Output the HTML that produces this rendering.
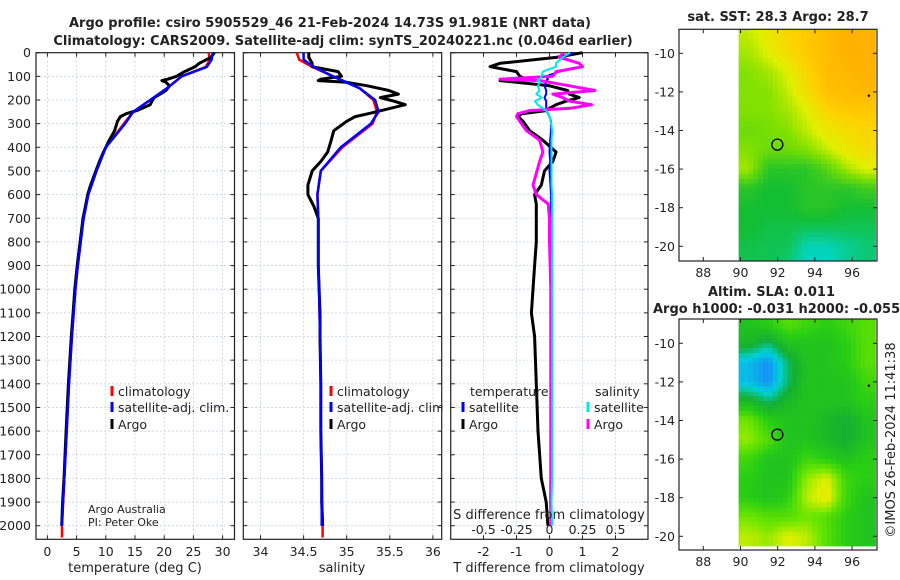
<!DOCTYPE html>
<html><head><meta charset="utf-8">
<style>
html,body{margin:0;padding:0;background:#fff;}
svg{display:block;font-family:"DejaVu Sans","Liberation Sans",sans-serif;}
</style></head>
<body>
<svg id="c" width="900" height="580" viewBox="0 0 900 580" xmlns="http://www.w3.org/2000/svg"></svg>
<script>
// ---------- data ----------
var depthTicks=[0,100,200,300,400,500,600,700,800,900,1000,1100,1200,1300,1400,1500,1600,1700,1800,1900,2000];
var tTicks=[0,5,10,15,20,25,30];
var sTicks=[34,34.5,35,35.5,36];
var dTTicks=[-2,-1,0,1,2];
var dSTicks=[-0.5,-0.25,0,0.25,0.5];
var dSTickLabels=["-0.5","-0.25","0","0.25","0.5"];

var climDepth=[0,30,60,100,150,200,250,300,400,500,600,700,800,900,1000,1200,1400,1600,1800,2000,2050];
var climT=[27.6,27.8,27.1,23,20.5,17.6,14.7,13.1,10.0,8.4,7.0,6.2,5.7,5.2,4.8,4.2,3.7,3.3,2.9,2.5,2.5];
var satT=[28.3,28.1,27.3,23,20.5,17.6,14.7,13.3,10.0,8.4,7.0,6.2,5.7,5.2,4.8,4.2,3.7,3.3,2.9,2.45,null];
var climS=[34.42,34.45,34.6,34.84,35.15,35.31,35.35,35.3,34.95,34.7,34.66,34.67,34.67,34.67,34.68,34.69,34.7,34.7,34.71,34.72,34.72];
var satS=[34.5,34.5,34.62,34.84,35.15,35.33,35.37,35.28,34.93,34.7,34.66,34.67,34.67,34.67,34.68,34.69,34.7,34.7,34.71,34.71,null];

var argoDepth=[0,20,45,59,80,100,112,118,125,140,160,175,190,205,220,245,258,270,290,330,370,420,460,500,560,600,650,700,800,900,1000,1100,1200,1400,1600,1800,1900,2000];
var argoT=[28.6,28.0,26,25.3,23.5,22.1,20.6,19.6,20.3,20.9,20.3,19.3,18.3,17.9,17.6,15.3,13.5,12.5,12.0,11.5,10.6,9.6,8.9,8.3,7.4,6.9,6.5,6.1,5.6,5.1,4.7,4.4,4.1,3.6,3.2,2.85,2.6,2.45];
var argoS=[34.56,34.56,34.6,34.6,34.9,34.94,34.7,34.67,35.0,35.24,35.49,35.6,35.39,35.55,35.68,35.4,35.25,35.1,35.0,34.85,34.82,34.78,34.7,34.6,34.55,34.55,34.62,34.67,34.67,34.67,34.68,34.69,34.69,34.7,34.7,34.71,34.71,34.72];

var diffDepth=[0,20,45,59,80,100,112,118,125,140,160,175,190,205,220,235,245,258,270,290,330,370,420,460,500,560,600,640,700,800,900,1000,1100,1200,1400,1600,1800,1900,2000];
var dTArgo=[1.0,0.2,-1.5,-1.8,-1.0,-0.9,-0.7,-1.5,-1.0,0.0,0.55,0.6,0.9,0.5,0.2,0.0,-0.1,-0.85,-0.95,-0.8,-0.6,-0.2,0.2,0.1,-0.15,-0.25,-0.45,-0.4,-0.4,-0.4,-0.45,-0.5,-0.55,-0.45,-0.4,-0.35,-0.25,-0.1,-0.05];
var dTSat=[0.7,0.4,0.9,1.0,0.3,-0.1,-0.05,-0.1,-0.1,-0.15,-0.1,-0.1,-0.15,-0.1,-0.1,-0.1,-0.1,-0.05,0,0.05,0.05,0.02,0,0.02,0,0.03,0.05,0.05,0.05,0.05,0.05,0.05,0.05,0.05,0.05,0.03,0.03,0.02,0.05];
var dSArgo=[0.105,0.075,0.225,0.25,0.05,0.025,-0.375,-0.07,0.0,0.15,0.345,0.025,0.1,0.15,0.32,0.155,-0.15,-0.24,-0.25,-0.225,-0.175,-0.075,-0.05,-0.075,-0.095,-0.125,-0.1,-0.01,0.0,0.0,0.005,0.01,0.01,0.01,0.01,0.01,0.01,0.01,0.01];
var dSSat=[0.155,0.1,0.05,0.05,-0.05,-0.06,-0.075,-0.09,-0.07,-0.09,-0.075,-0.1,-0.06,-0.11,-0.09,-0.05,-0.025,-0.01,0,0.01,0.02,0.015,0.015,0.015,0.015,0.015,0.02,0.02,0.02,0.02,0.02,0.02,0.02,0.02,0.02,0.02,0.02,0.015,0.02];

var mapLonTicks=[88,90,92,94,96];
var mapLatTicks=[-10,-12,-14,-16,-18,-20];
var sstLat=[-9,-10,-11,-12,-13,-14,-15,-16,-17,-18,-19,-20,-21];
var sstGrid=[
[0.6,0.7,0.8,0.85,0.9,0.95,0.95],
[0.55,0.65,0.75,0.85,0.9,0.95,0.95],
[0.5,0.55,0.65,0.8,0.9,0.92,0.95],
[0.5,0.5,0.6,0.75,0.88,0.9,0.92],
[0.5,0.5,0.55,0.65,0.8,0.85,0.85],
[0.45,0.48,0.5,0.6,0.7,0.75,0.8],
[0.5,0.45,0.45,0.5,0.6,0.7,0.75],
[0.55,0.3,0.3,0.3,0.4,0.55,0.65],
[0.3,0.25,0.25,0.3,0.3,0.3,0.35],
[0.25,0.25,0.25,0.3,0.3,0.25,0.25],
[0.25,0.22,0.22,0.2,0.2,0.2,0.2],
[0.22,0.2,0.2,0.05,0.05,0.1,0.15],
[0.2,0.2,0.15,0.02,0.02,0.1,0.15]];
var slaLat=[-9,-10,-11,-12,-13,-14,-15,-16,-17,-18,-19,-20];
var slaGrid=[
[0.45,0.5,0.6,0.55,0.5,0.55,0.6],
[0.4,0.3,0.45,0.45,0.45,0.5,0.6],
[0.15,0.05,0.3,0.45,0.45,0.5,0.6],
[0.15,0.05,0.3,0.45,0.45,0.45,0.55],
[0.4,0.3,0.4,0.45,0.45,0.45,0.5],
[0.65,0.5,0.45,0.45,0.4,0.35,0.45],
[0.7,0.6,0.45,0.45,0.4,0.35,0.45],
[0.55,0.45,0.45,0.55,0.5,0.45,0.5],
[0.5,0.45,0.45,0.7,0.8,0.55,0.5],
[0.5,0.45,0.5,0.75,0.85,0.55,0.45],
[0.65,0.6,0.6,0.65,0.6,0.5,0.45],
[0.75,0.7,0.8,0.75,0.6,0.5,0.45]];
var mapLonStart=89.9, mapCellLon=1.05;

// ---------- helpers ----------
var svg=document.getElementById('c');
var NS='http://www.w3.org/2000/svg';
function el(tag,attrs,parent){var e=document.createElementNS(NS,tag);for(var k in attrs)e.setAttribute(k,attrs[k]);(parent||svg).appendChild(e);return e;}
function txt(s,x,y,size,anchor,weight,parent){var t=el('text',{x:x,y:y,'font-size':size,'text-anchor':anchor||'middle','fill':'#222'},parent);if(weight)t.setAttribute('font-weight',weight);t.textContent=s;return t;}

var PTOP=52.7, PBOT=539.3;
function yD(d){return PTOP+d*0.2365;}
function xT(v){return 47.4+v*5.84;}
function xS(v){return 260.5+(v-34)*86.2;}
function xDT(v){return 549.5+v*33;}
function xDS(v){return 549.5+v*132;}

function panel(name,x0,x1,xticks,xf){
  var g=el('g',{});
  
  
  depthTicks.forEach(function(d){el('line',{x1:x0,x2:x1,y1:yD(d),y2:yD(d),stroke:'#c9cde6','stroke-width':0.8,'stroke-dasharray':'2,2'},g);
    el('line',{x1:x0,x2:x0+4,y1:yD(d),y2:yD(d),stroke:'#222'},g);el('line',{x1:x1,x2:x1-4,y1:yD(d),y2:yD(d),stroke:'#222'},g);});
  xticks.forEach(function(v){var x=xf(v);el('line',{x1:x,x2:x,y1:PTOP,y2:PBOT,stroke:'#c9cde6','stroke-width':0.8,'stroke-dasharray':'2,2'},g);
    el('line',{x1:x,x2:x,y1:PTOP,y2:PTOP+4,stroke:'#222'},g);el('line',{x1:x,x2:x,y1:PBOT,y2:PBOT-4,stroke:'#222'},g);
    var t=txt(String(v),x,556,12.5,'middle',null,g);
    });
  el('rect',{x:x0,y:PTOP,width:x1-x0,height:PBOT-PTOP,fill:'none',stroke:'#222','stroke-width':1.2},g);
  return g;
}
function line(parent,name,depths,vals,xf,color,w){
  var p='';var started=false;
  for(var i=0;i<depths.length;i++){if(vals[i]===null||vals[i]===undefined)continue;p+=(started?'L':'M')+xf(vals[i]).toFixed(1)+','+yD(depths[i]).toFixed(1);started=true;}
  var e=el('path',{d:p,fill:'none',stroke:color,'stroke-width':w,'stroke-linejoin':'round'},parent);
  
  
  return e;
}
function legend(parent,x,y,color,label){
  el('rect',{x:x-1.5,y:y-10,width:3,height:10,fill:color},parent);
  var t=txt(label,x+6,y,12.5,'start',null,parent);
  
}

// titles
var t1=txt('Argo profile: csiro 5905529_46 21-Feb-2024 14.73S 91.981E (NRT data)',330,27,13,'middle','bold');

var t2=txt('Climatology: CARS2009. Satellite-adj clim: synTS_20240221.nc (0.046d earlier)',343,45,13,'middle','bold');


// panel 1 temperature
var p1=panel('temperature-panel',36,234.5,tTicks,xT);
depthTicks.forEach(function(d){var t=txt(String(d),31,yD(d)+4.5,12.5,'end',null,p1);});
line(p1,'temperature-climatology-line',climDepth,climT,xT,'#ff0000',2.5);
line(p1,'temperature-argo-line',argoDepth,argoT,xT,'#000',3);
line(p1,'temperature-satellite-line',climDepth,satT,xT,'#0000ff',2.5);
var xl1=txt('temperature (deg C)',135,572,13,'middle',null,p1);
legend(p1,112,396,'#ff0000','climatology');legend(p1,112,412,'#0000ff','satellite-adj. clim.');legend(p1,112,429,'#000','Argo');
var a1=txt('Argo Australia',88,513,11,'start',null,p1);
var a2=txt('PI: Peter Oke',88,526,11,'start',null,p1);

// panel 2 salinity
var p2=panel('salinity-panel',243.3,441.7,sTicks,xS);
line(p2,'salinity-climatology-line',climDepth,climS,xS,'#ff0000',2.5);
line(p2,'salinity-argo-line',argoDepth,argoS,xS,'#000',3);
line(p2,'salinity-satellite-line',climDepth,satS,xS,'#0000ff',2.5);
var xl2=txt('salinity',342,572,13,'middle',null,p2);
legend(p2,331,396,'#ff0000','climatology');legend(p2,331,412,'#0000ff','satellite-adj. clim.');legend(p2,331,429,'#000','Argo');
el('rect',{x:442.5,y:380,width:7.5,height:60,fill:'#fff'});

// panel 3 differences
var p3=panel('difference-panel',450.7,648,dTTicks,xDT);
line(p3,'t-diff-argo-line',diffDepth,dTArgo,xDT,'#000',3);
line(p3,'t-diff-satellite-line',diffDepth,dTSat,xDT,'#0000ff',2);
line(p3,'s-diff-argo-line',diffDepth,dSArgo,xDS,'#ff00ff',3);
line(p3,'s-diff-satellite-line',diffDepth,dSSat,xDS,'#00e5ee',2);
var xl3=txt('T difference from climatology',549,572,13,'middle',null,p3);
var sl=txt('S difference from climatology',549,519,13,'middle',null,p3);
dSTicks.forEach(function(v,i){var t=txt(dSTickLabels[i],xDS(v),534,12.5,'middle',null,p3);});
var lt=txt('temperature',470,396,12.5,'start',null,p3);
var ls=txt('salinity',595,396,12.5,'start',null,p3);
legend(p3,463,412,'#0000ff','satellite');legend(p3,463,429,'#000','Argo');
legend(p3,588,412,'#00e5ee','satellite');legend(p3,588,429,'#ff00ff','Argo');

// ---------- maps ----------
function lerpC(stops,v){v=Math.max(0,Math.min(1,v));for(var i=1;i<stops.length;i++){if(v<=stops[i][0]){var a=stops[i-1],b=stops[i],f=(v-a[0])/(b[0]-a[0]);
  return 'rgb('+[1,2,3].map(function(k){return Math.round(a[k]+(b[k]-a[k])*f);}).join(',')+')';}}return 'rgb(255,160,0)';}
var sstStops=[[0,0,216,216],[0.25,20,190,50],[0.5,130,225,0],[0.65,225,240,0],[0.82,255,208,0],[1,255,165,0]];
var slaStops=[[0,30,120,255],[0.2,0,210,220],[0.35,20,175,50],[0.5,40,205,20],[0.65,110,230,0],[0.8,225,240,0],[1,255,190,0]];

function sample(grid,fr,fc){
  var R=grid.length,C=grid[0].length;
  fr=Math.max(0,Math.min(R-1,fr));fc=Math.max(0,Math.min(C-1,fc));
  var r0=Math.floor(fr),c0=Math.floor(fc),r1=Math.min(R-1,r0+1),c1=Math.min(C-1,c0+1),a=fr-r0,b=fc-c0;
  return grid[r0][c0]*(1-a)*(1-b)+grid[r0][c1]*(1-a)*b+grid[r1][c0]*a*(1-b)+grid[r1][c1]*a*b;
}
function map(name,mx0,mx1,my0,my1,lat10y,grid,lats,stops){
  var g=el('g',{});
  
  
  var xLon=function(l){return 740.5+(l-90)*18.6;};
  var yLat=function(l){return lat10y+(-10-l)*19.3;};
  var clip='clip-'+name;
  var cp=el('clipPath',{id:clip},g);el('rect',{x:mx0,y:my0,width:mx1-mx0,height:my1-my0},cp);
  var cg=el('g',{'clip-path':'url(#'+clip+')'},g);
  var sub=4, dl=mapCellLon/sub, dlat=1/sub;
  for(var r=0;r<grid.length*sub;r++){for(var c=0;c<grid[0].length*sub;c++){
    var lon=mapLonStart+c*dl, lat=lats[0]+0.5-r*dlat;
    var fr=(lats[0]-(lat-dlat/2)), fc=((lon+dl/2)-mapLonStart)/mapCellLon-0.5;
    var v=sample(grid,fr,fc);
    var cell=el('rect',{x:xLon(lon).toFixed(1),y:yLat(lat).toFixed(1),width:(dl*18.6+0.5).toFixed(1),height:(dlat*19.3+0.5).toFixed(1),fill:lerpC(stops,v)},cg);
    
    
  }}
  el('rect',{x:mx0,y:my0,width:mx1-mx0,height:my1-my0,fill:'none',stroke:'#222','stroke-width':1.2},g);
  mapLonTicks.forEach(function(l){var x=xLon(l);el('line',{x1:x,x2:x,y1:my1,y2:my1-4,stroke:'#222'},g);el('line',{x1:x,x2:x,y1:my0,y2:my0+4,stroke:'#222'},g);
    var t=txt(String(l),x,my1+16,12.5,'middle',null,g);});
  mapLatTicks.forEach(function(l){var y=yLat(l);el('line',{x1:mx0,x2:mx0+4,y1:y,y2:y,stroke:'#222'},g);el('line',{x1:mx1,x2:mx1-4,y1:y,y2:y,stroke:'#222'},g);
    var t=txt(String(l),675,y+4.5,12.5,'end',null,g);});
  var m=el('circle',{cx:xLon(91.98),cy:yLat(-14.73),r:5.5,fill:'none',stroke:'#000','stroke-width':1.3},g);
  
  el('circle',{cx:xLon(96.9),cy:yLat(-12.2),r:1.2,fill:'#000'},g);
  return g;
}
map('sst-map',679,877,29.3,261,53.3,sstGrid,sstLat,sstStops);
var mt1=txt('sat. SST: 28.3 Argo: 28.7',778,21,13,'middle','bold');
map('sla-map',679,877,319,550,343.3,slaGrid,slaLat,slaStops);
var mt2=txt('Altim. SLA: 0.011',708,296,13,'start','bold');
var mt3=txt('Argo h1000: -0.031 h2000: -0.055',653,313,13,'start','bold');
var cr=txt('©IMOS 26-Feb-2024 11:41:38',0,0,13,'middle');
cr.setAttribute('transform','translate(895,440) rotate(-90)');

</script>
</body></html>
